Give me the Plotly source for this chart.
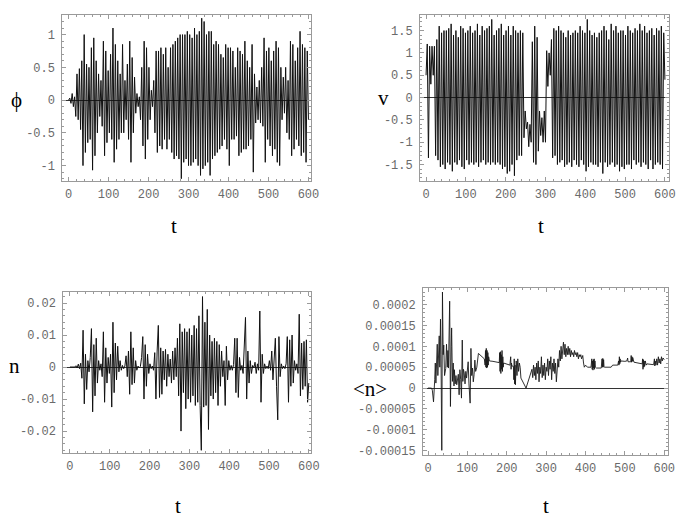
import plotly.graph_objects as go

# ---------------- data ----------------
T_STEP = 3  # time spacing of the sampled extrema below

phi_vals = [
    0, 0.03, -0.05, 0.1, -0.1, 0.05, -0.25, 0.4, -0.3, 0.48,
    -0.45, 0.6, -1.0, 1.0, -0.8, 0.55, -0.65, 0.5, -0.6, 0.8,
    -1.07, 0.95, -0.85, 0.6, -0.5, 0.4, -0.25, 0.3, -0.4, 0.9,
    -0.85, 0.75, -0.65, 0.45, -0.5, 0.7, -0.6, 1.1, -0.95, 0.85,
    -0.75, 0.6, -0.6, 0.4, -0.5, 0.85, -0.5, 0.3, -0.3, 0.55,
    -0.6, 0.9, -0.95, 0.65, -0.5, 0.35, -0.2, 0.1, -0.1, 0.05,
    -0.3, 0.5, -0.7, 0.9, -0.9, 0.8, -0.6, 0.5, -0.3, 0.15,
    -0.1, 0.3, -0.5, 0.75, -0.8, 0.75, -0.7, 0.8, -0.75, 0.7,
    -0.6, 0.8, -0.75, 0.5, -0.6, 0.8, -0.8, 0.85, -0.9, 0.9,
    -0.85, 0.95, -0.9, 1.0, -1.2, 1.0, -0.95, 1.0, -0.9, 1.05,
    -1.0, 1.0, -1.0, 0.95, -0.95, 1.1, -0.9, 1.0, -1.0, 1.05,
    -1.15, 1.25, -1.05, 1.2, -1.0, 1.0, -0.95, 1.05, -1.15, 1.05,
    -0.9, 0.85, -0.85, 0.9, -0.8, 0.85, -0.75, 0.7, -0.7, 0.65,
    -0.6, 0.85, -0.75, 0.8, -1.0, 0.8, -0.6, 0.75, -0.6, 0.5,
    -0.55, 0.8, -0.85, 0.75, -0.8, 0.7, -0.75, 0.9, -0.75, 0.6,
    -0.7, 0.5, -0.6, 0.85, -1.1, 0.4, -0.35, 0.2, -0.3, 0.3,
    -0.35, 0.5, -0.4, 0.95, -0.95, 0.75, -0.6, 0.8, -0.7, 0.6,
    -0.85, 0.75, -0.75, 0.9, -0.95, 0.8, -1.0, 0.5, -0.3, 0.35,
    -0.2, 0.5, -0.5, 0.3, -0.6, 0.9, -0.85, 0.85, -0.75, 0.6,
    -0.6, 0.8, -0.7, 1.05, -0.85, 0.85, -0.8, 0.8, -0.95, 0.75,
    -0.3,
]

v_vals = [
    0.5, 1.2, -1.35, 1.15, 0.3, 1.15, 0.5, 1.15, -1.3, 1.3,
    -1.4, 1.6, -1.55, 1.45, -1.5, 1.5, -1.6, 1.5, -1.45, 1.55,
    -1.5, 1.65, -1.65, 1.4, -1.45, 1.5, -1.5, 1.35, -1.4, 1.6,
    -1.55, 1.55, -1.6, 1.45, -1.4, 1.5, -1.5, 1.6, -1.45, 1.45,
    -1.5, 1.5, -1.45, 1.65, -1.55, 1.4, -1.45, 1.6, -1.4, 1.5,
    -1.5, 1.55, -1.45, 1.6, -1.5, 1.75, -1.45, 1.4, -1.5, 1.5,
    -1.45, 1.55, -1.5, 1.65, -1.6, 1.4, -1.55, 1.5, -1.7, 1.6,
    -1.65, 1.4, -1.5, 1.6, -1.75, 1.5, -1.4, 1.45, -1.3, 1.5,
    -1.3, 1.45, -0.9, -0.3, -0.7, -0.55, -1.1, -0.6, -1.0, 1.25,
    -1.45, 1.6, -1.5, 1.35, -1.2, -0.3, -0.85, -0.45, -1.0, -0.3,
    -1.0, 1.05, 0.25, 1.0, 0.5, 1.3, -1.35, 1.55, -1.3, 1.5,
    -1.5, 1.6, -1.45, 1.5, -1.4, 1.45, -1.55, 1.35, -1.5, 1.5,
    -1.45, 1.4, -1.55, 1.45, -1.4, 1.5, -1.5, 1.45, -1.55, 1.6,
    -1.4, 1.5, -1.5, 1.45, -1.65, 1.75, -1.55, 1.5, -1.45, 1.4,
    -1.5, 1.45, -1.5, 1.35, -1.55, 1.45, -1.45, 1.5, -1.7, 1.6,
    -1.45, 1.5, -1.55, 1.3, -1.5, 1.65, -1.45, 1.5, -1.55, 1.6,
    -1.5, 1.45, -1.65, 1.5, -1.55, 1.5, -1.6, 1.4, -1.5, 1.6,
    -1.5, 1.5, -1.6, 1.45, -1.4, 1.55, -1.5, 1.5, -1.45, 1.65,
    -1.55, 1.5, -1.45, 1.6, -1.5, 1.45, -1.6, 1.5, -1.4, 1.55,
    -1.6, 1.4, -1.5, 1.55, -1.45, 1.5, -1.5, 1.6, -1.6, 1.45,
    0.4,
]

# n values in units of 1e-3
n_vals_milli = [
    0, 0, 0, 0, 0, 0.4, -0.3, 0.9, -0.5, 1.2,
    -3.5, 11.5, -11.5, 4, -7, 2, -1.5, 3, 12, -14,
    7, -9, 9, -5, 2, -1, 1, -3, 11, -11,
    6, -5, 3, -2, 4, -12.5, 14, -8, 7.5, -4,
    6.5, -1.5, 2, -1, 0.5, -0.5, 0.3, 3.5, -3, 5,
    -8.5, 11, -5.5, 6, -5, 2, -1, 0.3, -0.2, 0.2,
    3, 9.5, -10, 7, -6, 4, -2, 1, -0.5, 0.3,
    -1, 4.5, -10, 5, 13, -9.5, 6, -8.5, 5, -4,
    5.5, -6, 4, -3, 2.5, -5, 5, -4, 6, -3,
    9, -9, 13.5, -20, 11, -8, 12, -13, 11, -10,
    12, -11, 10, -9, 13, -12, 12, -11, 16, -12,
    -26, 22, -12.5, 14, -12, 18, -19.5, 10, -9, 8,
    -10, 9, -8, 8, -12, 7, -6, 5, -3, 2,
    -12, 6.5, -4, 2, -1, 0.5, -1, 0.8, 9, -8,
    9, -9.5, 3, -1, 0.5, -2, 5, 15.5, -10, 5,
    -5, 2, -2, 0.5, -0.3, 1.5, -2, 1, -1, 17.5,
    -11, 4, -2, 1, -0.5, 0.3, -0.5, 2, -1, 5,
    -4, 5, 9, -6, -16.5, 9.5, -3, 1, -0.5, 0.3,
    -0.5, 1, 9.5, -11, 8.5, -6, 10, -5, 2, -1,
    1, -2, 16.5, -9, 7.5, -7, 8, -6, 8.5, -11,
    -5,
]

# <n>: explicit time points and values (units of 1e-5)
avg_t = [
    0, 9, 11, 14, 17, 18.5, 20, 22, 23.5, 25, 27, 28.5, 30, 31.7, 33, 35, 36.7, 38.5, 40, 42,
    45, 47, 49, 50.5, 52, 55, 57, 59, 60, 62, 64, 66, 67, 69, 71, 73, 75, 77, 79, 81,
    83, 85, 87, 88.5, 90, 92, 94, 96, 98, 100, 102, 104, 107, 109, 111, 113, 115, 117, 119, 121,
    124, 128, 133, 138, 143, 145, 146, 147, 148, 149, 150, 151, 152, 153, 154, 156, 165, 175, 181, 182,
    183, 184, 185, 186, 187, 188, 189, 190, 191, 192, 200, 208, 210, 211, 212, 213, 217, 218, 219, 220,
    221, 222, 224, 226, 228, 230, 232, 234, 236, 249, 262, 264, 266, 268, 270, 272, 274, 276, 278, 280,
    282, 284, 286, 288, 290, 292, 294, 296, 298, 300, 302, 304, 306, 308, 310, 312, 314, 316, 318, 320,
    322, 324, 326, 328, 330, 332, 334, 336, 338, 340, 342, 344, 346, 348, 350, 352, 354, 356, 358, 360,
    362, 364, 366, 368, 370, 372, 374, 376, 378, 380, 382, 384, 386, 388, 390, 393, 395, 397, 400, 405,
    414, 416, 417, 418, 419, 420, 421, 422, 423, 424, 425, 428, 440, 442, 443, 444, 445, 446, 447, 448,
    465, 469, 482, 484, 485, 486, 487, 488, 489, 490, 500, 505, 507, 508, 515, 516, 517, 518, 519, 520,
    521, 523, 544, 545, 546, 547, 548, 549, 550, 552, 554, 556, 573, 575, 576, 577, 579, 581, 583, 585,
    587, 589, 591, 593, 595, 597, 600,
]
avg_vals_e5 = [
    0, 0, -0.5, -3.3, 2, 6, 1.2, 9, 10.5, 3, 8, 12.5, 5, 16.5, 8, -14.9, 23, 8, 10.3, 3,
    4.7, 10.5, 5, 9, 4.8, 20.8, -4.4, 10, 14.4, 1.6, 6, 0.5, 4.4, 1, 3, 0.8, 2.4, 3.3, -1.6, 4.4,
    2, -2.4, 11.5, 1.6, 4.5, 3.6, 1, 4, 2.4, 5, 6.3, 1, -3.6, 9.5, 3, 4.8, 1.5, 3.2, 6.7, 4,
    5, 8.3, 7.8, 7.3, 7, 5.5, 9, 5, 9.5, 4.8, 9, 5, 8.5, 5.5, 7.5, 6.5, 6.4, 6.2, 6.1, 8.5,
    4, 8.7, 3.5, 8, 4.5, 9, 4, 7.5, 5, 6, 5.7, 5.5, 7.5, 4.5, 6, 5.3, 5.2, 2, 7, 1,
    5.5, 0.8, 6.5, 3, 7, 4, 6, 5, 2.4, 0, 3.6, 4.5, 2.5, 5.5, 3, 5, 2, 6, 3.5, 6.5,
    1.5, 5, 3.5, 7.5, 2.5, 5.5, 3, 6, 2, 5, 4, 7, 3, 6.5, 4.5, 7.5, 2, 6, 4, 7,
    3.5, 6, 1.5, 5, 7, 5, 9, 6.5, 10, 7, 9.5, 11, 8, 10.5, 7.5, 9.5, 8, 10, 8, 9.5,
    7.5, 9, 8, 8.5, 7.5, 9, 8, 8.5, 7.5, 8.5, 7, 8, 7.5, 8, 7, 7.8, 6, 5, 5.5, 5,
    5, 7, 4.5, 6.5, 4.3, 6.8, 4.8, 7, 4.5, 6.5, 5, 4.8, 4.8, 7, 5, 7.1, 5, 6.8, 5.2, 5,
    5, 5.5, 5.5, 6.5, 5.5, 7.5, 5.8, 7, 6.2, 6.5, 6.4, 6.5, 7.2, 6.3, 6.3, 7.8, 6.2, 7.5, 6.4, 7.3,
    6.5, 6.2, 5.8, 7, 4.5, 6.8, 5, 6.5, 5.2, 6.5, 5.5, 5.8, 5.6, 7, 5.3, 6.5, 5.5, 7, 5.5, 7.5,
    6, 7, 5.8, 7.5, 6.5, 7.2, 6.8,
]

# axis ticks
t_ticks = [0, 100, 200, 300, 400, 500, 600]
t_ticktext = ["0", "100", "200", "300", "400", "500", "600"]
phi_ticks = [-1, -0.5, 0, 0.5, 1]
phi_ticktext = ["-1", "-0.5", "0", "0.5", "1"]
v_ticks = [-1.5, -1, -0.5, 0, 0.5, 1, 1.5]
v_ticktext = ["-1.5", "-1", "-0.5", "0", "0.5", "1", "1.5"]
n_ticks = [-0.02, -0.01, 0, 0.01, 0.02]
n_ticktext = ["-0.02", "-0.01", "0", "0.01", "0.02"]
avg_ticks = [-0.00015, -0.0001, -0.00005, 0, 0.00005, 0.0001, 0.00015, 0.0002]
avg_ticktext = ["-0.00015", "-0.0001", "-0.00005", "0", "0.00005", "0.0001", "0.00015", "0.0002"]

# ---------------- derived series ----------------
phi_t = [T_STEP * i for i in range(len(phi_vals))]
v_t = [T_STEP * i for i in range(len(v_vals))]
n_t = [T_STEP * i for i in range(len(n_vals_milli))]
n_vals = [x * 1e-3 for x in n_vals_milli]
avg_vals = [x * 1e-5 for x in avg_vals_e5]

# page body has an 8px default margin: size the figure so it fills the window exactly
OFF = 8
W, H = 692 - OFF, 526 - OFF

def px_dom_x(a, b):
    return [(a - OFF) / W, (b - OFF) / W]

def px_dom_y(top, bottom):
    return [1 - (bottom - OFF) / H, 1 - (top - OFF) / H]

fig = go.Figure()
line_style = dict(color="#111111", width=1.0)
fig.add_trace(go.Scatter(x=phi_t, y=phi_vals, mode="lines", line=line_style, xaxis="x", yaxis="y", showlegend=False))
fig.add_trace(go.Scatter(x=v_t, y=v_vals, mode="lines", line=line_style, xaxis="x2", yaxis="y2", showlegend=False))
fig.add_trace(go.Scatter(x=n_t, y=n_vals, mode="lines", line=line_style, xaxis="x3", yaxis="y3", showlegend=False))
fig.add_trace(go.Scatter(x=avg_t, y=avg_vals, mode="lines", line=dict(color="#1a1a1a", width=0.9), xaxis="x4", yaxis="y4", showlegend=False))

tick_font = dict(family="Liberation Mono, Courier New, monospace", size=12, color="#6a6a6a")
frame_col = "#9a9a9a"

def xax(domain, rng, anchor):
    return dict(domain=domain, range=rng, anchor=anchor, tickmode="array", tickvals=t_ticks, ticktext=t_ticktext,
                ticks="inside", ticklen=4, tickcolor=frame_col, tickwidth=1,
                minor=dict(tickmode="linear", tick0=0, dtick=20, ticks="inside", ticklen=2, tickcolor=frame_col),
                showline=True, linecolor=frame_col, linewidth=1, mirror="allticks", showgrid=False, zeroline=False,
                tickfont=tick_font, ticklabelstandoff=2)

def yax(domain, rng, anchor, tv, tt, mdt):
    return dict(domain=domain, range=rng, anchor=anchor, tickmode="array", tickvals=tv, ticktext=tt,
                ticks="inside", ticklen=4, tickcolor=frame_col, tickwidth=1,
                minor=dict(tickmode="linear", tick0=0, dtick=mdt, ticks="inside", ticklen=2, tickcolor=frame_col),
                showline=True, linecolor=frame_col, linewidth=1, mirror="allticks", showgrid=False,
                zeroline=True, zerolinecolor="#333333", zerolinewidth=1,
                tickfont=tick_font, ticklabelstandoff=4)

fig.update_layout(
    width=W, height=H, margin=dict(l=0, r=0, t=0, b=0),
    paper_bgcolor="white", plot_bgcolor="white",
    xaxis=xax(px_dom_x(63, 315), [-15.6, 607.4], "y"),
    yaxis=yax(px_dom_y(15, 182), [-1.23, 1.30], "x", phi_ticks, phi_ticktext, 0.1),
    xaxis2=xax(px_dom_x(425, 677), [-14.9, 610.7], "y2"),
    yaxis2=yax(px_dom_y(15, 182), [-1.86, 1.85], "x2", v_ticks, v_ticktext, 0.1),
    xaxis3=xax(px_dom_x(64, 315), [-16.6, 606.6], "y3"),
    yaxis3=yax(px_dom_y(294, 456), [-0.0267, 0.0235], "x3", n_ticks, n_ticktext, 0.002),
    xaxis4=xax(px_dom_x(428, 676), [-12.5, 610], "y4"),
    yaxis4=yax(px_dom_y(290, 458), [-0.000159, 0.00024], "x4", avg_ticks, avg_ticktext, 0.00001),
)

label_font = dict(family="Liberation Serif, Times New Roman, serif", size=21, color="black")
labels = [
    ("ϕ", 17, 101), ("t", 176, 228),
    ("v", 388, 99), ("t", 547, 228),
    ("n", 15, 369), ("t", 180, 510),
    ("<n>", 374, 392), ("t", 552, 510),
]
for txt, px, py in labels:
    fig.add_annotation(text=txt.replace("<", "&lt;").replace(">", "&gt;"),
                       x=(px - OFF) / W, y=1 - (py - OFF) / H,
                       xref="paper", yref="paper", showarrow=False, xanchor="center", yanchor="middle",
                       font=label_font)

fig.write_html("out.html")
